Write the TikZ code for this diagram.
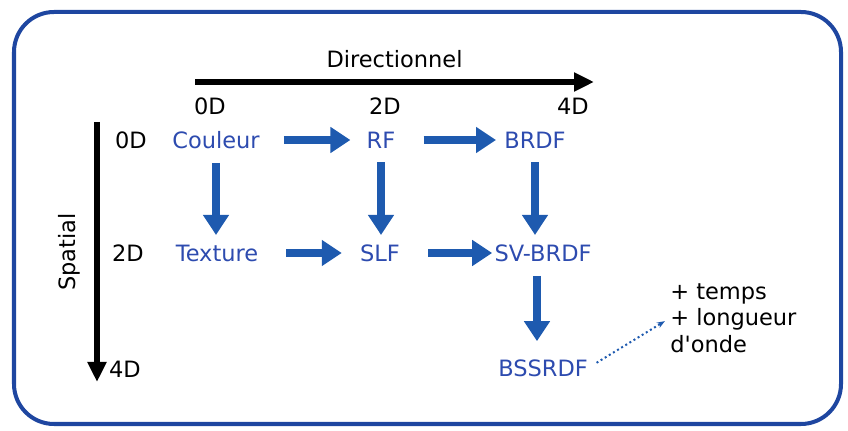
\documentclass[tikz,border=0pt]{standalone}
\usepackage{fontspec}
\setmainfont{DejaVu Sans}[Ligatures=TeXOff]
\usetikzlibrary{arrows.meta}
\definecolor{cadre}{RGB}{30,70,160}
\definecolor{fleche}{RGB}{30,90,175}
\definecolor{nom}{RGB}{45,75,175}
\tikzset{
  modele/.style={text=nom, font=\fontsize{16}{19}\selectfont, inner sep=0pt},
  etiq/.style={font=\fontsize{16}{19}\selectfont, inner sep=0pt},
  flot/.style={fleche, line width=0.22cm, -{Triangle[length=0.5cm,width=0.62cm]}},
  axe/.style={black, line width=0.13cm, -{Triangle[length=0.5cm,width=0.45cm]}}
}
\begin{document}
\begin{tikzpicture}[x=0.025cm,y=-0.025cm]
  \useasboundingbox (0,0) rectangle (848,431);
  \draw[cadre, line width=0.1cm, rounded corners=1cm] (14,12) rectangle (841,424);
  % axes
  \coordinate (dira) at (195,82);
  \coordinate (dirb) at (594,82);
  \coordinate (spaa) at (97,122);
  \coordinate (spab) at (97,382);
  \draw[axe] (dira) -- (dirb) node[midway, above=0.3cm, etiq] {Directionnel};
  \draw[axe] (spaa) -- (spab) node[midway, left=0.35cm, etiq, rotate=90, anchor=south] {Spatial};
  \node[etiq] (d0) at (210,106) {0D};
  \node[etiq] (d2) at (385,106) {2D};
  \node[etiq] (d4) at (573,106) {4D};
  \node[etiq] (s0) at (131,140) {0D};
  \node[etiq] (s2) at (128,253) {2D};
  \node[etiq] (s4) at (125,369) {4D};
  % modeles
  \node[modele] (couleur) at (216,140) {Couleur};
  \node[modele] (rf) at (381,140) {RF};
  \node[modele] (brdf) at (535,140) {BRDF};
  \node[modele] (texture) at (217,253) {Texture};
  \node[modele] (slf) at (380,253) {SLF};
  \node[modele] (svbrdf) at (543,253) {SV-BRDF};
  \node[modele] (bssrdf) at (543,368) {BSSRDF};
  \node[etiq, align=left, anchor=west] (plus) at (670,318) {+ temps\\+ longueur\\d'onde};
  % fleches
  \draw[flot, shorten <=0.6cm, shorten >=0.4cm] (couleur) -- (rf);
  \draw[flot, shorten <=0.7cm, shorten >=0.2cm] (rf) -- (brdf);
  \draw[flot, shorten <=0.7cm, shorten >=0.45cm] (texture) -- (slf);
  \draw[flot, shorten <=0.7cm, shorten >=0.05cm] (slf) -- (svbrdf);
  \draw[flot, shorten <=0.35cm, shorten >=0.45cm] (couleur) -- (couleur |- texture);
  \draw[flot, shorten <=0.35cm, shorten >=0.45cm] (rf) -- (rf |- slf);
  \draw[flot, shorten <=0.35cm, shorten >=0.45cm] (brdf) -- (brdf |- svbrdf);
  \draw[flot, shorten <=0.35cm, shorten >=0.45cm] ([xshift=-0.15cm]svbrdf.south) -- ([xshift=-0.15cm]bssrdf.north);
  \draw[fleche, line width=0.05cm, dotted, -{Stealth[length=0.2cm]}, shorten <=0.25cm, shorten >=0.15cm] (bssrdf.east) -- (plus.west);
\end{tikzpicture}
\end{document}
